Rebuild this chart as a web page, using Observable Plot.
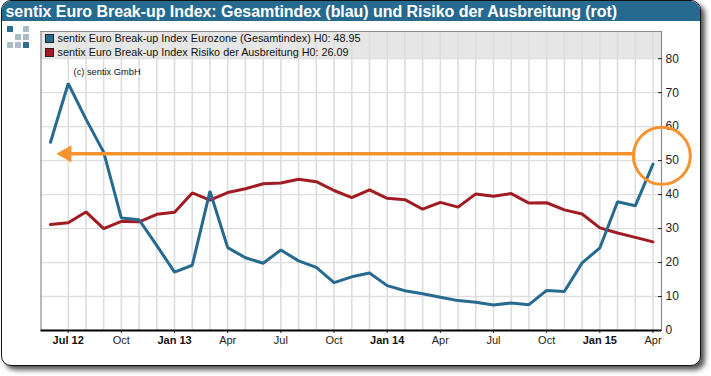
<!DOCTYPE html>
<html>
<head>
<meta charset="utf-8">
<script src="https://cdn.jsdelivr.net/npm/d3@7"></script>
<script src="https://cdn.jsdelivr.net/npm/@observablehq/plot@0.6"></script>
<style>
html,body{margin:0;padding:0;background:#fff;font-family:"Liberation Sans",Arial,sans-serif;}
#page{position:relative;width:711px;height:376px;overflow:hidden;}
#card{position:absolute;left:0.5px;top:0;width:700px;height:366px;box-sizing:border-box;border:1.5px solid #111;border-radius:10px;background:#fff;box-shadow:4px 4px 5px #555;overflow:hidden;}
#head{position:absolute;left:0;top:0;right:0;height:19.5px;background:#276a8f;color:#fff;font-weight:bold;font-size:16px;letter-spacing:-0.05px;line-height:21px;padding-left:4px;white-space:nowrap;}
#chart{position:absolute;left:0;top:0;}
.lg{position:absolute;left:45px;font-size:10.8px;line-height:13px;color:#111;white-space:nowrap;}
.sw{display:inline-block;width:7px;height:7px;border:1px solid #222;margin-right:3.5px;vertical-align:-0.5px;}
.q{position:absolute;width:6px;height:6px;}
</style>
</head>
<body>
<div id="page">
  <div id="card"><div id="head"></div></div>
  <div id="logo"></div>
  <div id="chart"></div>
  <div id="legend"></div>
</div>
<script>
const titleText = "sentix Euro Break-up Index: Gesamtindex (blau) und Risiko der Ausbreitung (rot)";
const legendLabels = ["sentix Euro Break-up Index Eurozone (Gesamtindex) H0: 48.95", "sentix Euro Break-up Index Risiko der Ausbreitung H0: 26.09"];
const months = ["Jun 12","Jul 12","Aug 12","Sep 12","Oct 12","Nov 12","Dec 12",
  "Jan 13","Feb 13","Mar 13","Apr 13","May 13","Jun 13","Jul 13","Aug 13","Sep 13","Oct 13","Nov 13","Dec 13",
  "Jan 14","Feb 14","Mar 14","Apr 14","May 14","Jun 14","Jul 14","Aug 14","Sep 14","Oct 14","Nov 14","Dec 14",
  "Jan 15","Feb 15","Mar 15","Apr 15"];
const gesamt = [55.4,72.7,62.2,52.5,33.1,32.6,25,17.2,19.2,41,24.4,21.4,19.8,23.7,20.5,18.6,14.1,15.8,16.9,13.2,11.7,10.8,9.8,8.8,8.3,7.5,8.1,7.6,11.8,11.5,19.9,24.3,37.9,36.7,48.95];
const risiko = [31.2,31.7,34.9,30,32.1,32,34.2,34.8,40.5,38.4,40.6,41.7,43.2,43.4,44.5,43.8,41.2,39.1,41.4,38.9,38.5,35.7,37.7,36.3,40.2,39.5,40.3,37.5,37.6,35.5,34.3,30.2,28.7,27.4,26.09];
const yTicks = [0,10,20,30,40,50,60,70,80];
const gridY = [10,20,30,40,50,60,70,80];
const boldLabels = ["Jul 12","Jan 13","Jan 14","Jan 15"];
const plainLabels = {"Oct 12":"Oct","Apr 13":"Apr","Jul 13":"Jul","Oct 13":"Oct","Apr 14":"Apr","Jul 14":"Jul","Oct 14":"Oct","Apr 15":"Apr"};
const copyright = "(c) sentix GmbH";
const blue = "#276a8f", red = "#a01c22", orange = "#f7932e";

const idx = months.map((_, i) => i);
const boldTicks = boldLabels.map(l => months.indexOf(l));
const plainTicks = Object.keys(plainLabels).map(l => months.indexOf(l));
const fmt = i => { const m = months[i]; return plainLabels[m] || m; };

document.getElementById("head").textContent = titleText;
const lg = document.getElementById("legend");
legendLabels.forEach((t, i) => {
  const d = document.createElement("div");
  d.className = "lg";
  d.style.top = (32 + i * 14) + "px";
  d.innerHTML = `<span class="sw" style="background:${i ? red : blue}"></span>`;
  d.appendChild(document.createTextNode(t));
  lg.appendChild(d);
});
const logo = document.getElementById("logo");
[[0,0,1],[2,0,0],[1,1,0],[2,1,0],[0,2,0],[1,2,0],[2,2,1]].forEach(([c,r,b]) => {
  const q = document.createElement("div");
  q.className = "q";
  q.style.left = (7 + c * 8) + "px";
  q.style.top = (26 + r * 8) + "px";
  q.style.background = b ? "#2a6d93" : "#a9bcc8";
  logo.appendChild(q);
});

const font = '"Liberation Sans", Arial, sans-serif';
const plot = Plot.plot({
  width: 711, height: 376,
  marginLeft: 40.5, marginRight: 50, marginTop: 31, marginBottom: 46,
  style: {background: "transparent", fontFamily: font, overflow: "visible"},
  x: {type: "linear", domain: [-0.536, 34.48], axis: null},
  y: {domain: [0, 88], axis: null},
  marks: [
    Plot.rectY([0], {x1: -0.536, x2: 34.48, y1: 80, y2: 88, fill: "#e6e6e6"}),
    Plot.ruleX(idx.slice(1), {y1: 0, y2: 88, stroke: "#dedede", strokeWidth: 1.6}),
    Plot.ruleY(gridY, {stroke: "#dedede", strokeWidth: 1.3}),
    Plot.ruleX([-0.536, 34.48], {y1: 0, y2: 88, stroke: "#8c8c8c", strokeWidth: 1.2}),
    Plot.ruleY([88], {stroke: "#8c8c8c", strokeWidth: 1.2}),
    Plot.ruleY([0], {stroke: "#000", strokeWidth: 2}),
    Plot.axisY({anchor: "right", ticks: yTicks, tickSize: -4, tickPadding: 8, fontSize: 12, stroke: "#222", fill: "#222", label: null}),
    Plot.axisX({ticks: boldTicks, tickFormat: fmt, tickSize: 3, tickPadding: 3, fontSize: 11, fontWeight: "bold", stroke: "#222", fill: "#111", label: null}),
    Plot.axisX({ticks: plainTicks, tickFormat: fmt, tickSize: 3, tickPadding: 3, fontSize: 11, stroke: "#222", fill: "#222", label: null}),
    Plot.text([copyright], {x: () => 1.3, y: () => 76.2, text: d => d, textAnchor: "start", fontSize: 9.3, fill: "#111"}),
    Plot.line(risiko, {x: (d, i) => i, y: d => d, stroke: red, strokeWidth: 3, strokeLinejoin: "miter"}),
    Plot.line(gesamt, {x: (d, i) => i, y: d => d, stroke: blue, strokeWidth: 3, strokeLinejoin: "miter"}),
    Plot.ruleY([52], {x1: 1, x2: 32.9, stroke: orange, strokeWidth: 3.5}),
    Plot.dot([52], {x: () => 0.9, y: d => d, symbol: "triangle", r: 6.4, rotate: -90, fill: orange, stroke: "none"}),
    Plot.dot([51.4], {x: () => 34.5, y: d => d, r: 28.5, stroke: orange, strokeWidth: 3, fill: "none"})
  ]
});
document.getElementById("chart").appendChild(plot);
</script>
</body>
</html>
